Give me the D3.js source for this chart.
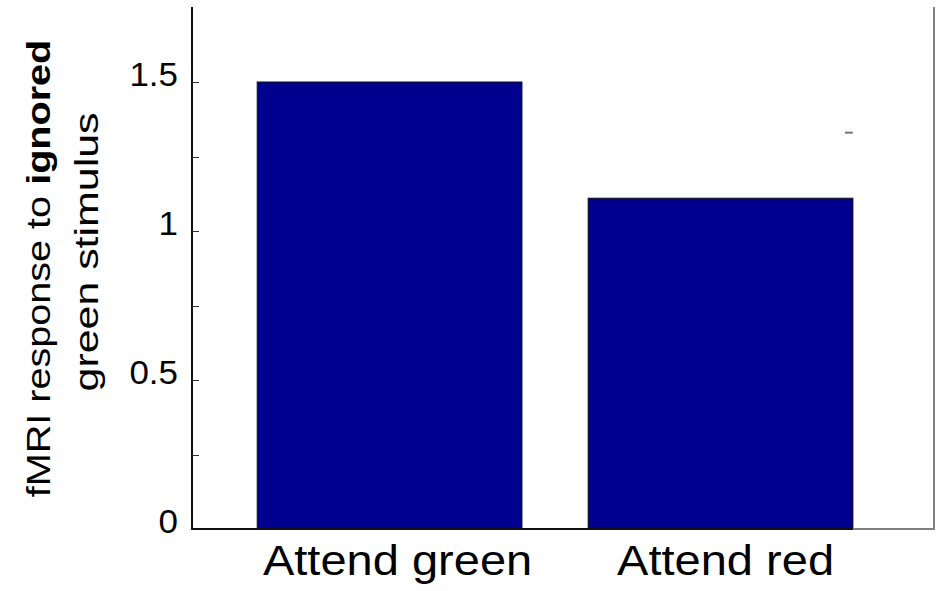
<!DOCTYPE html>
<html><head><meta charset="utf-8">
<script src="https://cdn.jsdelivr.net/npm/d3@7"></script>
<style>body{margin:0;background:#fff}svg{display:block}</style>
</head><body>
<svg id="c" width="937" height="591"></svg>
<script>
const categories = ["Attend green", "Attend red"];
const values = [1.5, 1.11];
const capValues = [null, 1.33];
const tickValues = [0.25, 0.5, 0.75, 1, 1.25, 1.5];
const tickLabels = [0, 0.5, 1, 1.5];

const svg = d3.select("#c");
const font = "'Liberation Sans', Arial, sans-serif";
const y = d3.scaleLinear().domain([0, 1.75]).range([529, 7.5]);
const x = d3.scaleLinear().domain([0.403, 2.645]).range([192, 934]);
const bw = x(0.8) - x(0);

// bars
svg.selectAll("rect.bar").data(values).join("rect")
  .attr("x", (d, i) => x(i + 1) - bw / 2)
  .attr("y", d => y(d))
  .attr("width", bw)
  .attr("height", d => y(0) - y(d))
  .attr("fill", "#00008f")
  .attr("stroke", "#111")
  .attr("stroke-width", 1);

// caps
svg.selectAll("line.cap").data(capValues.map((v, i) => ({v, i})).filter(d => d.v != null)).join("line")
  .attr("x1", d => x(d.i + 1) + bw / 2 - 8).attr("x2", d => x(d.i + 1) + bw / 2)
  .attr("y1", d => y(d.v)).attr("y2", d => y(d.v))
  .attr("stroke", "#777").attr("stroke-width", 2);

// frame
svg.append("line").attr("x1", x(2) + bw / 2).attr("x2", 934).attr("y1", 529).attr("y2", 529)
  .attr("stroke", "#808080").attr("stroke-width", 2);
svg.append("line").attr("x1", 934).attr("x2", 934).attr("y1", 7).attr("y2", 530)
  .attr("stroke", "#808080").attr("stroke-width", 2);
svg.append("line").attr("x1", 192).attr("x2", x(2) + bw / 2).attr("y1", 529).attr("y2", 529)
  .attr("stroke", "#111").attr("stroke-width", 2);
svg.append("line").attr("x1", 192).attr("x2", 192).attr("y1", 7).attr("y2", 530)
  .attr("stroke", "#111").attr("stroke-width", 2);

// y ticks
svg.selectAll("line.tick").data(tickValues).join("line")
  .attr("x1", 192).attr("x2", 199)
  .attr("y1", d => Math.round(y(d)) + 0.5).attr("y2", d => Math.round(y(d)) + 0.5)
  .attr("stroke", "#333").attr("stroke-width", 1);

svg.selectAll("text.yl").data(tickLabels).join("text")
  .attr("transform", d => `translate(178,${y(d) + 4}) scale(1.06,1)`)
  .attr("text-anchor", "end")
  .attr("font-family", font).attr("font-size", 33)
  .text(d => d);

// x labels
const xShift = [8, 5];
svg.selectAll("text.xl").data(categories).join("text")
  .attr("transform", (d, i) => `translate(${x(i + 1) + xShift[i]},575) scale(1.12,1)`)
  .attr("text-anchor", "middle")
  .attr("font-family", font).attr("font-size", 42)
  .text(d => d);

// y title
const t1 = svg.append("text").attr("transform", "translate(50,268.5) rotate(-90) scale(1.2,1)")
  .attr("text-anchor", "middle").attr("font-family", font).attr("font-size", 33);
t1.append("tspan").text("fMRI response to ");
t1.append("tspan").attr("font-weight", "bold").text("ignored");
svg.append("text").attr("transform", "translate(98,252) rotate(-90) scale(1.3,1)")
  .attr("text-anchor", "middle").attr("font-family", font).attr("font-size", 33)
  .text("green stimulus");
</script>
</body></html>
